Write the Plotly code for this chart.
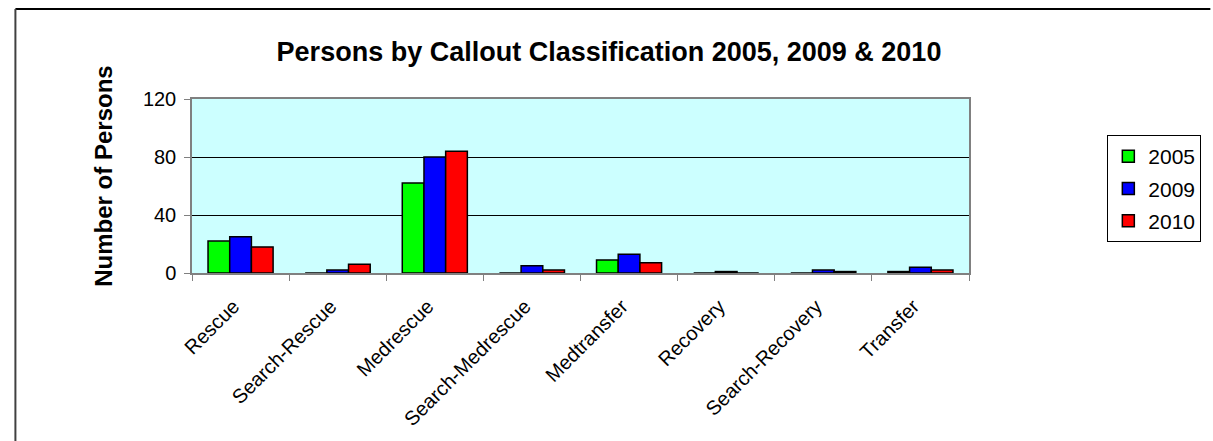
import plotly.graph_objects as go

# Datos de la gráfica
categorias = ['Rescue', 'Search-Rescue', 'Medrescue', 'Search-Medrescue',
              'Medtransfer', 'Recovery', 'Search-Recovery', 'Transfer']
personas_2005 = [22, 0, 62, 0, 9, 0, 0, 1]
personas_2009 = [25, 2, 80, 5, 13, 1, 2, 4]
personas_2010 = [18, 6, 84, 2, 7, 0, 1, 2]
y_ticks = [0, 40, 80, 120]

W, H = 1213, 441
L, R, T, B = 192, 1213 - 984, 99, 441 - 273
pw, ph = W - L - R, H - T - B


def px_x(x):
    # pixel de la página -> coordenada paper
    return (x - L) / pw


def px_y(y):
    return (H - B - y) / ph


fuente = 'Liberation Sans, Arial, sans-serif'

fig = go.Figure()
for nombre, valores, color in [('2005', personas_2005, '#00FF00'),
                               ('2009', personas_2009, '#0000FF'),
                               ('2010', personas_2010, '#FF0000')]:
    fig.add_trace(go.Bar(x=categorias, y=valores, name=nombre, legendgroup=nombre,
                         marker=dict(color=color, line=dict(color='black', width=1.5))))

fig.update_layout(
    width=W, height=H,
    margin=dict(l=L, r=R, t=T, b=B),
    paper_bgcolor='white',
    plot_bgcolor='#CCFFFF',
    barmode='group', bargap=0.33, bargroupgap=0,
    font=dict(family=fuente, color='black', size=20),
    title=dict(text='<b>Persons by Callout Classification 2005, 2009 & 2010</b>',
               x=609 / W, xanchor='center', y=1 - 52 / H, yanchor='middle',
               font=dict(size=27, family=fuente, color='black')),
    legend=dict(x=px_x(1125), y=px_y(135), xanchor='left', yanchor='top',
                bordercolor='black', borderwidth=1, bgcolor='white',
                font=dict(size=21, family=fuente), tracegroupgap=2,
                itemwidth=30),
    showlegend=True,
)

fig.update_xaxes(
    tickangle=-45, tickson='boundaries', ticks='outside', ticklen=6,
    tickcolor='#808080', showline=True, linecolor='#808080', linewidth=1.5,
    mirror=True, tickfont=dict(size=20, family=fuente),
    ticklabelstandoff=12, ticklabelshift=-7,
)
fig.update_yaxes(
    range=[0, 120], tickvals=y_ticks, ticks='outside', ticklen=6,
    tickcolor='#808080', showline=True, linecolor='#808080', linewidth=1.5,
    mirror=True, showgrid=True, gridcolor='black', gridwidth=1, zeroline=False,
    tickfont=dict(size=20, family=fuente), ticklabelstandoff=4,
)

# Título del eje Y
fig.add_annotation(text='<b>Number of Persons</b>', textangle=-90,
                   xref='paper', yref='paper', x=px_x(101), y=px_y(176),
                   xanchor='center', yanchor='middle', showarrow=False,
                   font=dict(size=24, family=fuente, color='black'))

# Borde exterior del gráfico (solo arriba e izquierda visibles)
fig.add_shape(type='line', xref='paper', yref='paper',
              x0=px_x(12), x1=px_x(1230), y0=px_y(9), y1=px_y(9),
              line=dict(color='black', width=2))
fig.add_shape(type='line', xref='paper', yref='paper',
              x0=px_x(12), x1=px_x(12), y0=px_y(9), y1=px_y(460),
              line=dict(color='#404040', width=2))

# Sin margen en la página para que la figura ocupe exactamente la ventana
fig.write_html('out.html',
               config={'displayModeBar': False},
               post_script="document.body.style.margin='0';"
                           "document.documentElement.style.overflow='hidden';")
